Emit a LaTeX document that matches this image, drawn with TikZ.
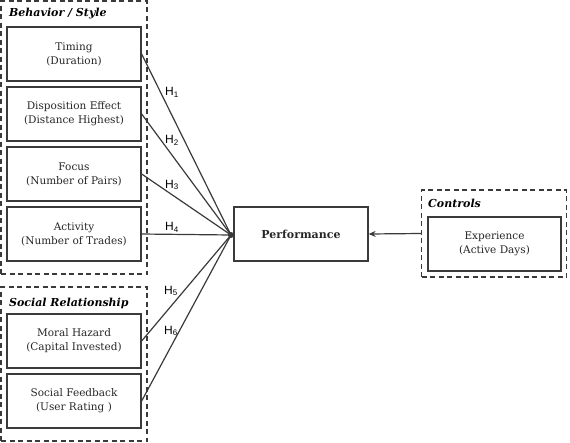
\documentclass[tikz,border=0pt]{standalone}
\usepackage{fontspec}
\setmainfont{DejaVu Serif}
\newfontfamily\hfont{Liberation Sans}
\usetikzlibrary{arrows.meta}
\definecolor{ink}{HTML}{3A3A3A}
\tikzset{
  box/.style={draw=ink, line width=1.3pt, minimum width=134pt, minimum height=54pt, align=center, inner sep=0pt, font=\fontsize{10.5}{14}\selectfont, text=black!85},
  grp/.style={draw=ink, line width=1.5pt, dash pattern=on 5pt off 3.5pt, inner sep=0pt},
  grptitle/.style={anchor=west, font=\fontsize{11}{13}\selectfont\bfseries\itshape, inner sep=0pt},
  hyp/.style={font=\hfont\fontsize{12}{13}\selectfont, inner sep=0pt},
  link/.style={draw=ink, line width=1.2pt},
}
\begin{document}
\begin{tikzpicture}[x=1pt,y=-1pt]
\useasboundingbox (0,0) rectangle (570,442);
% groups
\node[grp, minimum width=146pt, minimum height=273pt] (bs) at (74,137.5) {};
\node[grp, minimum width=146pt, minimum height=154pt] (sr) at (74,364) {};
\node[grp, minimum width=145pt, minimum height=87pt] (ctrl) at (494,233.5) {};
\node[grptitle] (t1) at (9,14) {Behavior / Style};
\node[grptitle] (t2) at (9,303) {Social Relationship};
\node[grptitle] (t3) at (428,203) {Controls};
% boxes
\node[box] (timing) at (74,54) {Timing\\(Duration)};
\node[box] (disp) at (74,114) {Disposition Effect\\(Distance Highest)};
\node[box] (focus) at (74,174) {Focus\\(Number of Pairs)};
\node[box] (act) at (74,234) {Activity\\(Number of Trades)};
\node[box] (moral) at (74,341) {Moral Hazard\\(Capital Invested)};
\node[box] (social) at (74,401) {Social Feedback\\(User Rating )};
\node[box, font=\fontsize{11}{14}\selectfont\bfseries] (perf) at (301,234) {Performance};
\node[box, minimum width=133pt] (exp) at (494.5,244) {Experience\\(Active Days)};
% hub
\node[circle, fill=ink, inner sep=0pt, minimum size=6pt] (hub) at (231,235) {};
% links
\draw[link] (timing.east) -- (hub.center);
\draw[link] (disp.east) -- (hub.center);
\draw[link] (focus.east) -- (hub.center);
\draw[link] (act.east) -- (hub.center);
\draw[link] (moral.east) -- (hub.center);
\draw[link] (social.east) -- (hub.center);
\draw[link, -{Stealth[length=7pt,width=6pt]}] (ctrl.west) -- (perf.east);
% labels
\node[hyp] (h1) at (172,92) {H\textsubscript{1}};
\node[hyp] (h2) at (172,140) {H\textsubscript{2}};
\node[hyp] (h3) at (172,185) {H\textsubscript{3}};
\node[hyp] (h4) at (172,227) {H\textsubscript{4}};
\node[hyp] (h5) at (171,291) {H\textsubscript{5}};
\node[hyp] (h6) at (171,331) {H\textsubscript{6}};
\end{tikzpicture}
\end{document}
